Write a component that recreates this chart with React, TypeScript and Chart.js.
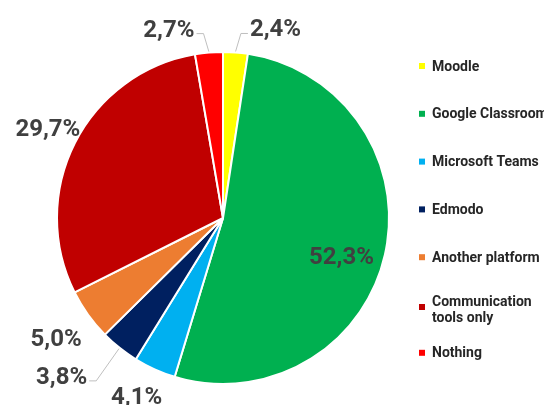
import React, { useEffect, useRef } from "react";
import { Chart, registerables } from "chart.js";

Chart.register(...registerables);

// ---- data ----
const categories = [
  "Moodle",
  "Google Classroom",
  "Microsoft Teams",
  "Edmodo",
  "Another platform",
  "Communication tools only",
  "Nothing",
];
const shares = [2.4, 52.3, 4.1, 3.8, 5.0, 29.7, 2.7];
const sliceColors = ["#FFFF00", "#00B050", "#00B0F0", "#002060", "#ED7D31", "#C00000", "#FF0000"];
const valueLabels = shares.map((v) => v.toFixed(1).replace(".", ",") + "%");

// ---- styling of the value labels (radius factor + nudge, leader side) ----
const labelPlacement = [
  { r: 1.0, dx: 40, dy: -22, leader: "left" },
  { r: 0.75, dx: -3, dy: 12, leader: "" },
  { r: 1.0, dx: -18, dy: 29, leader: "" },
  { r: 1.0, dx: -58, dy: 30, leader: "right" },
  { r: 1.0, dx: -32, dy: 25, leader: "" },
  { r: 1.0, dx: -27, dy: -13, leader: "" },
  { r: 1.0, dx: -40, dy: -22, leader: "right" },
];

const LABEL_FONT = "bold 24px Roboto";
const LEGEND_FONT = "bold 14px Roboto";

const valueLabelPlugin = {
  id: "valueLabels",
  afterDatasetsDraw(chart: any) {
    const ctx = chart.ctx;
    const meta = chart.getDatasetMeta(0);
    ctx.save();
    ctx.font = LABEL_FONT;
    ctx.textAlign = "center";
    ctx.textBaseline = "middle";
    meta.data.forEach((arc: any, i: number) => {
      const p = arc.getProps(["x", "y", "startAngle", "endAngle", "outerRadius"], true);
      const mid = (p.startAngle + p.endAngle) / 2;
      const pl = labelPlacement[i];
      const ax = p.x + Math.cos(mid) * p.outerRadius * pl.r;
      const ay = p.y + Math.sin(mid) * p.outerRadius * pl.r;
      const lx = ax + pl.dx;
      const ly = ay + pl.dy;
      const text = valueLabels[i];
      const w = ctx.measureText(text).width;
      if (pl.leader) {
        const edge = pl.leader === "right" ? lx + w / 2 : lx - w / 2;
        const s = pl.leader === "right" ? 1 : -1;
        ctx.beginPath();
        ctx.strokeStyle = "#BFBFBF";
        ctx.lineWidth = 1;
        ctx.moveTo(edge + s * 2, ly + 3);
        ctx.lineTo(edge + s * 9, ly + 3);
        ctx.lineTo(p.x + Math.cos(mid) * (p.outerRadius + 1), p.y + Math.sin(mid) * (p.outerRadius + 1));
        ctx.stroke();
      }
      ctx.fillStyle = "#404040";
      ctx.fillText(text, lx, ly);
    });
    ctx.restore();
  },
};

const legendPlugin = {
  id: "sideLegend",
  afterDraw(chart: any) {
    const ctx = chart.ctx;
    const ds = chart.data.datasets[0];
    const labels: string[] = chart.data.labels;
    const x0 = 419;
    const y0 = 66;
    const step = 47.8;
    const maxW = 118;
    ctx.save();
    ctx.font = LEGEND_FONT;
    ctx.textAlign = "left";
    ctx.textBaseline = "middle";
    labels.forEach((lab, i) => {
      const cy = y0 + step * i;
      const words = lab.split(" ");
      const lines: string[] = [];
      let cur = "";
      words.forEach((wd) => {
        const t = cur ? cur + " " + wd : wd;
        if (ctx.measureText(t).width > maxW && cur) {
          lines.push(cur);
          cur = wd;
        } else cur = t;
      });
      lines.push(cur);
      ctx.fillStyle = ds.backgroundColor[i];
      if (lines.length === 1) {
        ctx.fillRect(x0, cy - 3, 6, 6);
        ctx.fillStyle = "#262626";
        ctx.fillText(lines[0], x0 + 13, cy + 1);
      } else {
        ctx.fillRect(x0, cy - 1, 6, 6);
        ctx.fillStyle = "#262626";
        lines.forEach((ln, k) => ctx.fillText(ln, x0 + 13, cy - 3 + k * 16));
      }
    });
    ctx.restore();
  },
};

export default function App() {
  const ref = useRef<HTMLCanvasElement | null>(null);
  useEffect(() => {
    if (!ref.current) return;
    const chart = new Chart(ref.current, {
      type: "pie",
      data: {
        labels: categories,
        datasets: [
          {
            data: shares,
            backgroundColor: sliceColors,
            borderColor: "#FFFFFF",
            borderWidth: 2,
          },
        ],
      },
      options: {
        responsive: false,
        animation: false,
        radius: 166,
        layout: { padding: { left: 40, right: 138, top: 40, bottom: 9 } },
        plugins: {
          legend: { display: false },
          tooltip: { enabled: false },
        },
      } as any,
      plugins: [valueLabelPlugin, legendPlugin],
    });
    return () => chart.destroy();
  }, []);
  return (
    <div style={{ position: "fixed", left: 0, top: 0, width: 544, height: 405, background: "#fff" }}>
      <canvas ref={ref} width={544} height={405} />
    </div>
  );
}
